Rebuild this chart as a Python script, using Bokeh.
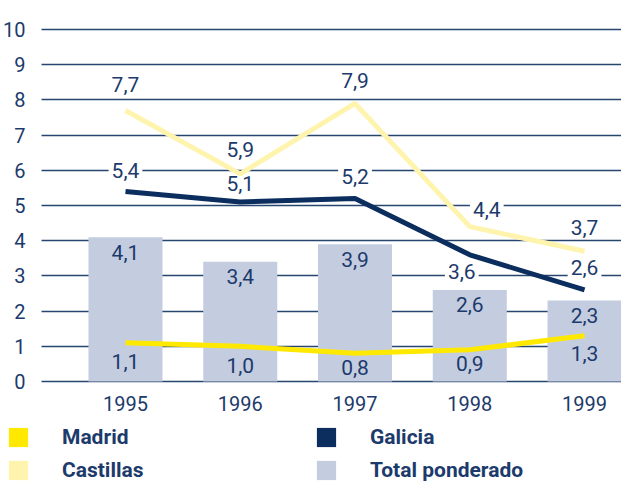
from bokeh.plotting import figure
from bokeh.models import ColumnDataSource, Range1d, FixedTicker, Legend, LegendItem, Grid
from bokeh.embed import file_html
from bokeh.resources import INLINE
from bokeh.core.properties import value

# ---- data ----
years = [1995, 1996, 1997, 1998, 1999]
madrid = [1.1, 1.0, 0.8, 0.9, 1.3]
galicia = [5.4, 5.1, 5.2, 3.6, 2.6]
castillas = [7.7, 5.9, 7.9, 4.4, 3.7]
total_ponderado = [4.1, 3.4, 3.9, 2.6, 2.3]
y_ticks = [0, 1, 2, 3, 4, 5, 6, 7, 8, 9, 10]
series_names = ["Madrid", "Galicia", "Castillas", "Total ponderado"]

# ---- styles ----
TEXT = "#1c3a6b"
GRID = "#27466f"
C_MADRID = "#ffe900"
C_GALICIA = "#0b2e5e"
C_CAST = "#fff4ad"
C_BAR = "#c4cce0"
FONT = "Roboto"

X0, X1 = 1993.911, 1999.322
Y0, Y1 = -2.926, 10.824
AXIS_X = 1994.268   # where the value axis / gridlines start


def fmt(v):
    return f"{v:.1f}".replace(".", ",")


p = figure(width=621, height=484,
           x_range=Range1d(X0, X1), y_range=Range1d(Y0, Y1),
           output_backend="svg", toolbar_location=None, min_border=0)
p.outline_line_color = None
p.background_fill_color = "white"
p.border_fill_color = "white"

p.xgrid.visible = False
p.ygrid.ticker = FixedTicker(ticks=y_ticks)
p.ygrid.grid_line_color = GRID
p.ygrid.grid_line_width = 1.5
if "cross_bounds" in Grid.properties():
    p.ygrid.cross_bounds = (AXIS_X, X1)

for ax in (p.xaxis[0], p.yaxis[0]):
    ax.axis_line_color = None
    ax.major_tick_line_color = None
    ax.minor_tick_line_color = None
    ax.major_label_text_color = TEXT
    ax.major_label_text_font = FONT
    ax.major_label_text_font_size = "20px"
p.yaxis[0].ticker = FixedTicker(ticks=y_ticks)
p.yaxis[0].fixed_location = AXIS_X
p.yaxis[0].major_label_standoff = 10
p.xaxis[0].ticker = FixedTicker(ticks=years)
p.xaxis[0].fixed_location = 0
p.xaxis[0].major_label_standoff = 8

# bars
bar_src = ColumnDataSource(dict(x=years, top=total_ponderado))
bars = p.vbar(x="x", top="top", width=0.645, source=bar_src,
              fill_color=C_BAR, line_color=None)

# labels with white background (line series)
cast_src = ColumnDataSource(dict(x=years, y=castillas, t=[fmt(v) for v in castillas],
                                 xo=[0, 0, 0, 17, 0], yo=[-26, -24, -23, -17, -24]))
gal_src = ColumnDataSource(dict(x=years, y=galicia, t=[fmt(v) for v in galicia],
                                xo=[0, 0, 0, -8, 0], yo=[-21, -18, -22, 17, -22]))
for src in (cast_src, gal_src):
    p.text(x="x", y="y", text="t", x_offset="xo", y_offset="yo", source=src,
           text_align="center", text_baseline="middle",
           text_font=value(FONT), text_font_size="21px", text_color=TEXT,
           background_fill_color="white", padding=3)

# lines
p.line(years, madrid, line_color=C_MADRID, line_width=5)
p.line(years, galicia, line_color=C_GALICIA, line_width=5)
p.line(years, castillas, line_color=C_CAST, line_width=5)

# labels inside bars
bar_lab = ColumnDataSource(dict(x=years, y=total_ponderado, t=[fmt(v) for v in total_ponderado]))
p.text(x="x", y="y", text="t", y_offset=15, source=bar_lab,
       text_align="center", text_baseline="middle",
       text_font=value(FONT), text_font_size="21px", text_color=TEXT)
mad_lab = ColumnDataSource(dict(x=years, y=madrid, t=[fmt(v) for v in madrid],
                                yo=[19, 19, 14, 14, 18]))
p.text(x="x", y="y", text="t", y_offset="yo", source=mad_lab,
       text_align="center", text_baseline="middle",
       text_font=value(FONT), text_font_size="21px", text_color=TEXT)

# legend swatches (zero-height bars, used only for the legend)
swatch_colors = [C_MADRID, C_GALICIA, C_CAST]
items = []
for name, col in zip(series_names[:3], swatch_colors):
    r = p.vbar(x=[years[0]], top=[0], bottom=[0], width=0.1, fill_color=col, line_color=None)
    items.append(LegendItem(label=name, renderers=[r]))
items.append(LegendItem(label=series_names[3], renderers=[bars]))
legend = Legend(items=items, orientation="horizontal", ncols=2, location=(6, -1),
                glyph_width=24, glyph_height=24, label_standoff=32, label_width=249,
                label_height=30, spacing=3, padding=0, margin=0,
                border_line_color=None, background_fill_alpha=0,
                label_text_font=FONT, label_text_font_size="21px",
                label_text_font_style="bold", label_text_color=TEXT)
p.add_layout(legend, "center")

open("out.html", "w").write(file_html(p, INLINE))
